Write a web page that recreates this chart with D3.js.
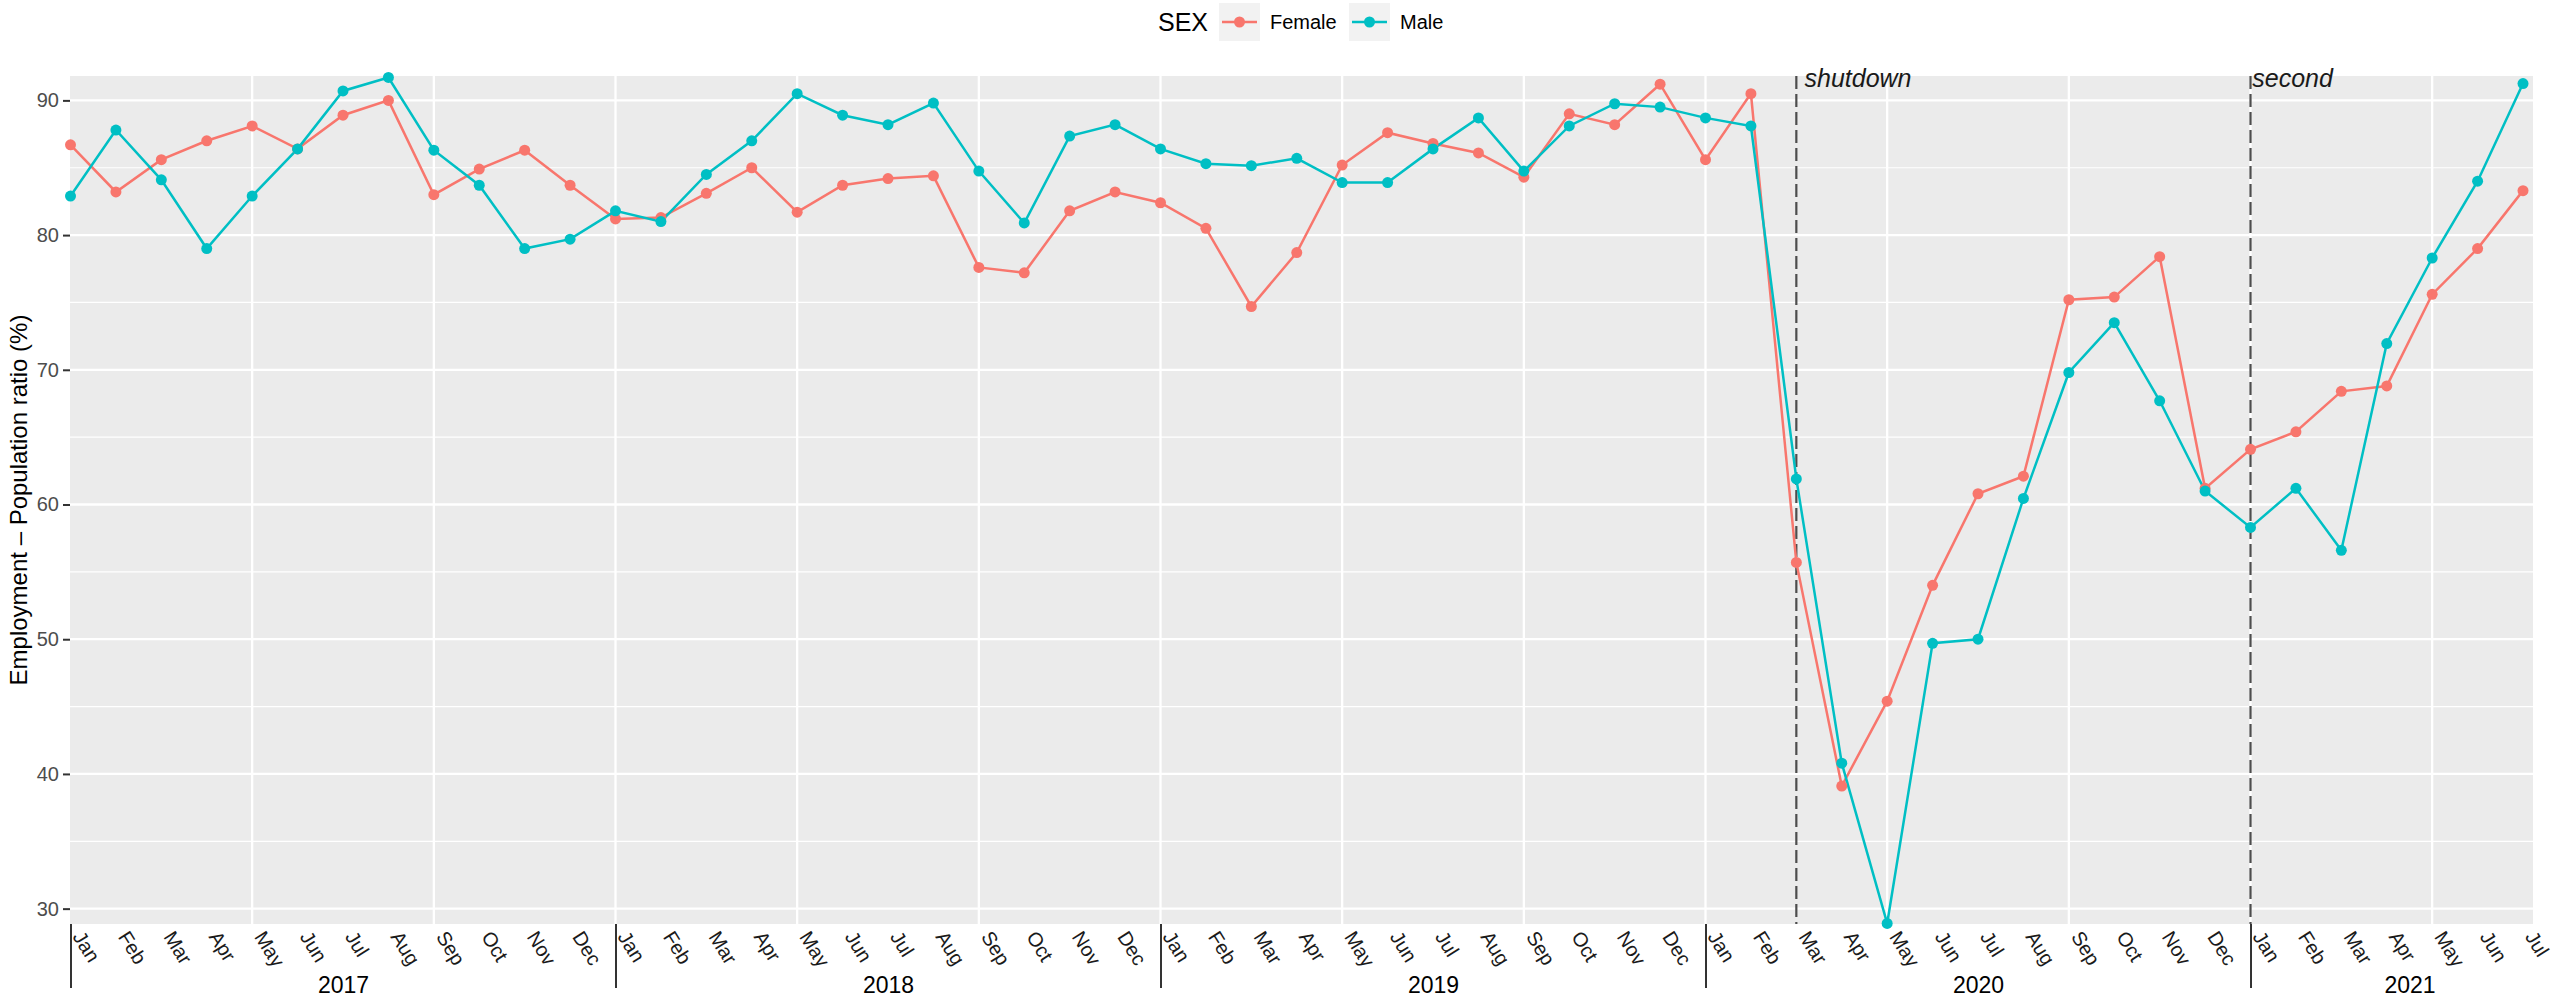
<!DOCTYPE html>
<html>
<head>
<meta charset="utf-8">
<script src="https://cdn.jsdelivr.net/npm/d3@7"></script>
<style>
  body { margin: 0; background: #fff; }
  svg text { font-family: "Liberation Sans", Arial, sans-serif; }
</style>
</head>
<body>
<svg id="chart" width="2560" height="1003"></svg>
<script>
const monthNames = ['Jan', 'Feb', 'Mar', 'Apr', 'May', 'Jun', 'Jul', 'Aug', 'Sep', 'Oct', 'Nov', 'Dec'];
const years = [2017, 2018, 2019, 2020, 2021];
const monthsInYear = [12, 12, 12, 12, 7];

const female = [
  86.7, 83.2, 85.6, 87.0, 88.1, 86.4, 88.9, 90.0, 83.0, 84.9, 86.3, 83.7,
  81.2, 81.3, 83.1, 85.0, 81.7, 83.7, 84.2, 84.4, 77.6, 77.2, 81.8, 83.2,
  82.4, 80.5, 74.7, 78.7, 85.2, 87.6, 86.8, 86.1, 84.3, 89.0, 88.2, 91.2,
  85.6, 90.5, 55.7, 39.1, 45.4, 54.0, 60.8, 62.1, 75.2, 75.4, 78.4, 61.2,
  64.1, 65.4, 68.4, 68.8, 75.6, 79.0, 83.3
];
const male = [
  82.9, 87.8, 84.1, 79.0, 82.9, 86.4, 90.7, 91.7, 86.3, 83.7, 79.0, 79.7,
  81.8, 81.0, 84.5, 87.0, 90.5, 88.9, 88.2, 89.8, 84.75, 80.9, 87.35, 88.2,
  86.4, 85.3, 85.15, 85.7, 83.9, 83.9, 86.4, 88.7, 84.75, 88.1, 89.75, 89.5,
  88.7, 88.1, 61.9, 40.8, 28.9, 49.7, 50.0, 60.45, 69.8, 73.5, 67.7, 61.0,
  58.3, 61.2, 56.6, 71.95, 78.3, 84.0, 91.25
];

const seriesNames = ['Female', 'Male'];
const seriesColors = ['#F8766D', '#00BFC4'];

const yTicks = [30, 40, 50, 60, 70, 80, 90];
const yMinor = [35, 45, 55, 65, 75, 85];

// event lines: month index (0 = Jan 2017) and label position
const eventNames = ['shutdown', 'second'];
const eventAt = [38, 48];
const eventLabelAt = [38.18, 48.04];

const svg = d3.select('#chart');
const W = 2560;
const panel = { left: 70, right: 2533, top: 76, bottom: 924 };

const x = d3.scaleLinear().domain([0, 54.22]).range([70.5, panel.right]);
const y = d3.scaleLinear().domain([28.86, 91.81]).range([panel.bottom, panel.top]);

const nMonths = d3.sum(monthsInYear);
const idx = d3.range(nMonths);

// panel background
svg.append('rect')
  .attr('x', panel.left).attr('y', panel.top)
  .attr('width', panel.right - panel.left).attr('height', panel.bottom - panel.top)
  .attr('fill', '#ebebeb');

// grid
const grid = svg.append('g');
grid.selectAll('.minor').data(yMinor).join('line')
  .attr('x1', panel.left).attr('x2', panel.right)
  .attr('y1', d => y(d)).attr('y2', d => y(d))
  .attr('stroke', '#fff').attr('stroke-width', 1.2);
grid.selectAll('.major').data(yTicks).join('line')
  .attr('x1', panel.left).attr('x2', panel.right)
  .attr('y1', d => y(d)).attr('y2', d => y(d))
  .attr('stroke', '#fff').attr('stroke-width', 2.3);
grid.selectAll('.vgrid').data(idx.filter(i => i % 4 === 0 && i > 0)).join('line')
  .attr('x1', d => x(d)).attr('x2', d => x(d))
  .attr('y1', panel.top).attr('y2', panel.bottom)
  .attr('stroke', '#fff').attr('stroke-width', 2.3);

// y axis
const yAxis = svg.append('g')
  .attr('transform', `translate(${panel.left},0)`)
  .call(d3.axisLeft(y).tickValues(yTicks).tickSize(7).tickPadding(4));
yAxis.select('.domain').remove();
yAxis.selectAll('line').attr('stroke', '#333').attr('stroke-width', 2);
yAxis.selectAll('text')
  .attr('fill', '#4d4d4d')
  .style('font-size', '20px')
  .style('font-family', '"Liberation Sans", Arial, sans-serif');

svg.append('text')
  .attr('transform', `translate(27,${(panel.top + panel.bottom) / 2}) rotate(-90)`)
  .attr('text-anchor', 'middle')
  .style('font-size', '24px')
  .attr('fill', '#000')
  .text('Employment \u2013 Population ratio (%)');

// x axis: month labels
const xAxis = svg.append('g')
  .attr('transform', `translate(0,${panel.bottom})`)
  .call(d3.axisBottom(x).tickValues(idx).tickSize(0).tickFormat(i => monthNames[i % 12]));
xAxis.select('.domain').remove();
xAxis.selectAll('text')
  .attr('fill', '#1a1a1a')
  .style('font-size', '20px')
  .style('font-family', '"Liberation Sans", Arial, sans-serif')
  .attr('text-anchor', 'start')
  .attr('y', 0).attr('dy', '0.35em')
  .attr('transform', 'translate(7,9) rotate(58)');

// year separators
const yearStart = d3.cumsum([0].concat(monthsInYear)).slice(0, years.length);
const sepAxis = svg.append('g')
  .attr('transform', `translate(0,${panel.bottom})`)
  .call(d3.axisBottom(x).tickValues(Array.from(yearStart)).tickSize(64).tickFormat(''));
sepAxis.select('.domain').remove();
sepAxis.selectAll('line').attr('stroke', '#000').attr('stroke-width', 1.6);

// year labels
const yearCenter = years.map((yr, k) => yearStart[k] + monthsInYear[k] / 2);
const yearAxis = svg.append('g')
  .attr('transform', `translate(0,${panel.bottom})`)
  .call(d3.axisBottom(x).tickValues(yearCenter).tickSize(0)
    .tickFormat((d, k) => years[k]));
yearAxis.select('.domain').remove();
yearAxis.selectAll('text')
  .attr('fill', '#000')
  .style('font-size', '23px')
  .style('font-family', '"Liberation Sans", Arial, sans-serif')
  .attr('y', 69).attr('dy', 0);

// event lines
svg.append('g').selectAll('line').data(eventAt).join('line')
  .attr('x1', d => x(d)).attr('x2', d => x(d))
  .attr('y1', panel.top).attr('y2', panel.bottom)
  .attr('stroke', '#4d4d4d').attr('stroke-width', 2.2)
  .attr('stroke-dasharray', '13,5');

// series
const series = seriesNames.map((name, k) => ({
  name,
  color: seriesColors[k],
  values: (k === 0 ? female : male).map((v, i) => ({ i, v }))
}));

const line = d3.line().x(d => x(d.i)).y(d => y(d.v));

svg.append('g').selectAll('path').data(series).join('path')
  .attr('d', s => line(s.values))
  .attr('fill', 'none')
  .attr('stroke', s => s.color)
  .attr('stroke-width', 2.5);

series.forEach(s => {
  svg.append('g').selectAll('circle').data(s.values).join('circle')
    .attr('cx', d => x(d.i)).attr('cy', d => y(d.v))
    .attr('r', 5.5)
    .attr('fill', s.color);
});

// event labels
svg.append('g').selectAll('text').data(eventNames).join('text')
  .attr('x', (d, k) => x(eventLabelAt[k]))
  .attr('y', 87)
  .style('font-size', '25px')
  .style('font-style', 'italic')
  .attr('fill', '#1a1a1a')
  .text(d => d);

// legend
const legend = svg.append('g');
legend.append('text')
  .attr('x', 1158).attr('y', 31)
  .style('font-size', '25px')
  .attr('fill', '#000')
  .text('SEX');
const keyX = [1219, 1349];
series.forEach((s, k) => {
  const g = legend.append('g').attr('transform', `translate(${keyX[k]},3)`);
  g.append('rect').attr('width', 41).attr('height', 38).attr('fill', '#f2f2f2');
  g.append('line').attr('x1', 3).attr('x2', 38).attr('y1', 19).attr('y2', 19)
    .attr('stroke', s.color).attr('stroke-width', 2.5);
  g.append('circle').attr('cx', 20.5).attr('cy', 19).attr('r', 5.5).attr('fill', s.color);
  g.append('text').attr('x', 51).attr('y', 26)
    .style('font-size', '20px').attr('fill', '#000').text(s.name);
});
</script>
</body>
</html>
